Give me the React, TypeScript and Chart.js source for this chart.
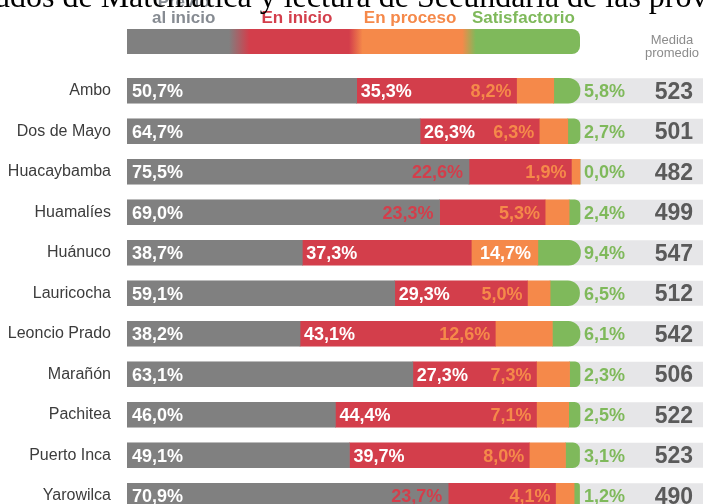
import React, { useEffect, useRef } from "react";
import { Chart, registerables } from "chart.js";

Chart.register(...registerables);

const provinces = [
  "Ambo",
  "Dos de Mayo",
  "Huacaybamba",
  "Huamalíes",
  "Huánuco",
  "Lauricocha",
  "Leoncio Prado",
  "Marañón",
  "Pachitea",
  "Puerto Inca",
  "Yarowilca",
];
const previoInicio = [50.7, 64.7, 75.5, 69.0, 38.7, 59.1, 38.2, 63.1, 46.0, 49.1, 70.9];
const enInicio = [35.3, 26.3, 22.6, 23.3, 37.3, 29.3, 43.1, 27.3, 44.4, 39.7, 23.7];
const enProceso = [8.2, 6.3, 1.9, 5.3, 14.7, 5.0, 12.6, 7.3, 7.1, 8.0, 4.1];
const satisfactorio = [5.8, 2.7, 0.0, 2.4, 9.4, 6.5, 6.1, 2.3, 2.5, 3.1, 1.2];
const medidaPromedio = [523, 501, 482, 499, 547, 512, 542, 506, 522, 523, 490];
const levelLabels = [["Previo", "al inicio"], ["En inicio"], ["En proceso"], ["Satisfactorio"]];
const averageHeader = ["Medida", "promedio"];
const titleText = "Resultados de Matemática y lectura de Secundaria de las provincias de Huánuco";

const GRAY = "#808080";
const RED = "#d33e4b";
const ORANGE = "#f5894a";
const GREEN = "#7fb95b";
const BAND = "#e6e6e8";
const LEGEND_GRAY = "#868b92";

const SANS = '"Liberation Sans", Arial, sans-serif';

const fmt = (v: number) => v.toFixed(1).replace(".", ",") + "%";

const bandPlugin = {
  id: "band",
  beforeDatasetsDraw(chart: any) {
    const { ctx, chartArea } = chart;
    const meta = chart.getDatasetMeta(0);
    ctx.save();
    ctx.fillStyle = BAND;
    meta.data.forEach((el: any) => {
      const { y, height } = el.getProps(["y", "height"], true);
      ctx.fillRect(chartArea.left, y - height / 2, chartArea.right - chartArea.left, height);
    });
    ctx.restore();
  },
};

const legendPlugin = {
  id: "legendBar",
  afterDraw(chart: any) {
    const { ctx } = chart;
    const xs = chart.scales.x;
    const x0 = xs.getPixelForValue(0);
    const x100 = xs.getPixelForValue(100);
    const w = x100 - x0;
    ctx.save();
    const g = ctx.createLinearGradient(x0, 0, x100, 0);
    g.addColorStop(0, GRAY);
    g.addColorStop(0.225, GRAY);
    g.addColorStop(0.27, RED);
    g.addColorStop(0.49, RED);
    g.addColorStop(0.52, ORANGE);
    g.addColorStop(0.74, ORANGE);
    g.addColorStop(0.77, GREEN);
    g.addColorStop(1, GREEN);
    ctx.fillStyle = g;
    ctx.beginPath();
    (ctx as any).roundRect(x0, 29, w, 25, [0, 8, 8, 0]);
    ctx.fill();

    const colors = [LEGEND_GRAY, RED, ORANGE, GREEN];
    ctx.font = `bold 17px ${SANS}`;
    ctx.textAlign = "center";
    ctx.textBaseline = "alphabetic";
    levelLabels.forEach((lines, k) => {
      const cx = xs.getPixelForValue(12.5 + 25 * k);
      ctx.fillStyle = colors[k];
      lines.forEach((line, j) => {
        ctx.fillText(line, cx, 22.5 - (lines.length - 1 - j) * 15.5);
      });
    });

    ctx.font = `13px ${SANS}`;
    ctx.fillStyle = "#8c8c8c";
    averageHeader.forEach((line, j) => {
      ctx.fillText(line, 672, 44 + j * 13);
    });
    ctx.restore();
  },
};

const labelPlugin = {
  id: "valueLabels",
  afterDatasetsDraw(chart: any) {
    const { ctx, chartArea } = chart;
    const m = [0, 1, 2, 3].map((k) => chart.getDatasetMeta(k).data);
    ctx.save();
    ctx.font = `bold 18px ${SANS}`;
    provinces.forEach((_, i) => {
      const g = m[0][i], r = m[1][i], o = m[2][i];
      const yb = g.y + 6.5;
      ctx.textAlign = "left";
      ctx.fillStyle = "#ffffff";
      ctx.fillText(fmt(previoInicio[i]), g.base + 5, yb);
      if (previoInicio[i] >= 68) {
        ctx.textAlign = "right";
        ctx.fillStyle = RED;
        ctx.fillText(fmt(enInicio[i]), r.base - 6, yb);
      } else {
        ctx.textAlign = "left";
        ctx.fillStyle = "#ffffff";
        ctx.fillText(fmt(enInicio[i]), r.base + 4, yb);
      }
      if (enProceso[i] >= 14) {
        ctx.textAlign = "center";
        ctx.fillStyle = "#ffffff";
        ctx.fillText(fmt(enProceso[i]), (o.base + o.x) / 2 + 1, yb);
      } else {
        ctx.textAlign = "right";
        ctx.fillStyle = ORANGE;
        ctx.fillText(fmt(enProceso[i]), r.x - 5, yb);
      }
      ctx.textAlign = "left";
      ctx.fillStyle = GREEN;
      ctx.fillText(fmt(satisfactorio[i]), chart.scales.x.getPixelForValue(100) + 4, yb);
    });
    ctx.font = `bold 23px ${SANS}`;
    ctx.textAlign = "right";
    ctx.fillStyle = "#5a5a5a";
    provinces.forEach((_, i) => {
      ctx.fillText(String(medidaPromedio[i]), chartArea.right - 10, m[0][i].y + 8.2);
    });
    ctx.restore();
  },
};

export default function App() {
  const ref = useRef<HTMLCanvasElement | null>(null);
  useEffect(() => {
    if (!ref.current) return;
    const xMax = (100 * (703 - 127)) / (580 - 127);
    const common = { barThickness: 25, borderWidth: 0, borderSkipped: "start" as const };
    const chart = new Chart(ref.current, {
      type: "bar",
      data: {
        labels: provinces,
        datasets: [
          { label: "Previo al inicio", data: previoInicio, backgroundColor: GRAY, ...common },
          { label: "En inicio", data: enInicio, backgroundColor: RED, ...common },
          { label: "En proceso", data: enProceso, backgroundColor: ORANGE, ...common },
          { label: "Satisfactorio", data: satisfactorio, backgroundColor: GREEN, borderRadius: 12, ...common },
        ],
      },
      options: {
        indexAxis: "y",
        responsive: false,
        maintainAspectRatio: false,
        animation: false,
        devicePixelRatio: 1,
        layout: { autoPadding: false, padding: { top: 70.5, right: 0, bottom: 0, left: 0 } },
        plugins: { legend: { display: false }, tooltip: { enabled: false } },
        scales: {
          x: { stacked: true, min: 0, max: xMax, display: false },
          y: {
            stacked: true,
            grid: { display: false, drawTicks: false },
            border: { display: false },
            ticks: {
              autoSkip: false,
              padding: 16,
              color: "#3c3c3c",
              font: { family: SANS, size: 16 },
            },
            afterFit: (s: any) => {
              s.width = 127;
              s.paddingTop = 0;
              s.paddingBottom = 0;
            },
          },
        },
      },
      plugins: [bandPlugin, labelPlugin, legendPlugin],
    });
    return () => chart.destroy();
  }, []);

  return (
    <div
      style={{
        position: "fixed",
        left: 0,
        top: 0,
        width: 703,
        height: 504,
        overflow: "hidden",
        background: "#ffffff",
      }}
    >
      <canvas
        ref={ref}
        width={703}
        height={516}
        style={{ position: "absolute", left: 0, top: 0, width: 703, height: 516 }}
      />
      <div
        style={{
          position: "absolute",
          left: -86,
          top: -20,
          whiteSpace: "nowrap",
          fontFamily: '"Liberation Serif", "Times New Roman", serif',
          fontSize: 32,
          lineHeight: "32px",
          color: "#000",
        }}
      >
        {titleText}
      </div>
    </div>
  );
}
